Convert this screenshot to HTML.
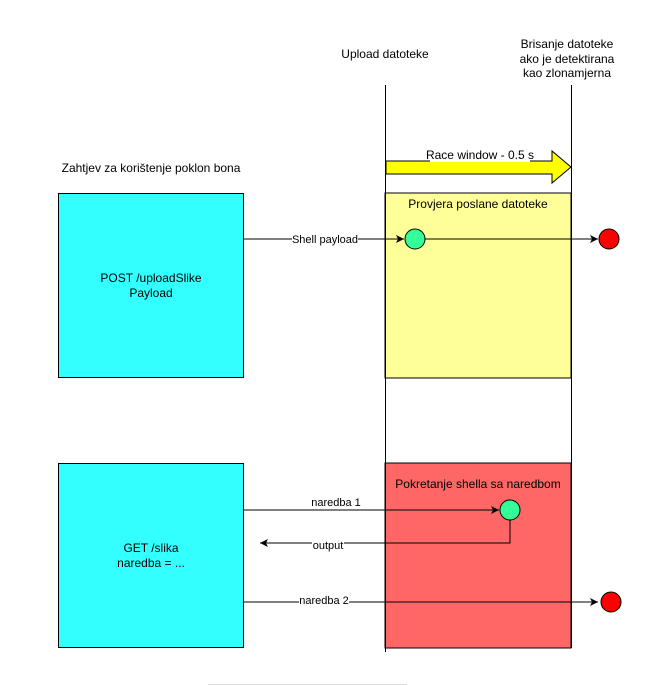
<!DOCTYPE html>
<html><head><style>
body{margin:0;background:#fff;}
svg{display:block;font-family:"Liberation Sans",sans-serif;}
</style></head><body>
<svg width="671" height="685" viewBox="0 0 671 685" xmlns="http://www.w3.org/2000/svg">
<defs><marker id="a" markerWidth="10" markerHeight="10" refX="9" refY="5" orient="auto" markerUnits="userSpaceOnUse"><path d="M1,1 L9,5 L1,9 L3,5 Z" fill="#000"/></marker></defs>
<g font-size="12" fill="#000" text-anchor="middle">
<text x="385" y="58">Upload datoteke</text>
<text x="567" y="48">Brisanje datoteke</text>
<text x="567" y="63">ako je detektirana</text>
<text x="567" y="77">kao zlonamjerna</text>
<text x="151" y="172">Zahtjev za korištenje poklon bona</text>
</g>
<rect x="385" y="193" width="186" height="185" fill="#ffff99" stroke="#000"/>
<rect x="385" y="463" width="186" height="185" fill="#ff6666" stroke="#000"/>
<line x1="385.5" y1="85" x2="385.5" y2="652" stroke="#000"/>
<line x1="571.5" y1="85" x2="571.5" y2="648" stroke="#000"/>
<rect x="58.5" y="193.5" width="185" height="184" fill="#33ffff" stroke="#000"/>
<rect x="58.5" y="463.5" width="185" height="184" fill="#33ffff" stroke="#000"/>
<path d="M386,161 L552,161 L552,151 L571,167 L552,183 L552,174 L386,174 Z" fill="#ffff00" stroke="#000"/>
<rect x="430" y="148" width="100" height="14" fill="#fff"/>
<text x="480" y="159" font-size="12" text-anchor="middle">Race window - 0.5 s</text>
<text x="478" y="208" font-size="12" text-anchor="middle">Provjera poslane datoteke</text>
<text x="478" y="488" font-size="12" text-anchor="middle">Pokretanje shella sa naredbom</text>
<g font-size="12" text-anchor="middle">
<text x="151" y="282">POST /uploadSlike</text>
<text x="151" y="297">Payload</text>
<text x="151" y="552">GET /slika</text>
<text x="151" y="567">naredba = ...</text>
</g>
<g stroke="#000" fill="none">
<line x1="243" y1="239" x2="404" y2="239" marker-end="url(#a)"/>
<line x1="425" y1="239" x2="598" y2="239" marker-end="url(#a)"/>
<line x1="243" y1="510" x2="499" y2="510" marker-end="url(#a)"/>
<path d="M510,520 L510,543 L260,543" marker-end="url(#a)"/>
<line x1="243" y1="602" x2="598" y2="602" marker-end="url(#a)"/>
</g>
<circle cx="415" cy="239" r="10" fill="#33ff99" stroke="#000"/>
<circle cx="609" cy="239" r="10" fill="#ff0000" stroke="#000"/>
<circle cx="510" cy="510" r="10" fill="#33ff99" stroke="#000"/>
<circle cx="611" cy="602" r="10" fill="#ff0000" stroke="#000"/>
<g font-size="11" text-anchor="middle">
<rect x="292" y="232" width="66" height="13" fill="#fff"/><text x="325" y="243">Shell payload</text>
<rect x="311" y="497" width="50" height="12" fill="#fff"/><text x="336" y="506">naredba 1</text>
<rect x="312" y="538" width="32" height="12" fill="#fff"/><text x="328" y="549">output</text>
<rect x="299" y="595" width="50" height="12" fill="#fff"/><text x="324" y="604">naredba 2</text>
</g>
<line x1="208" y1="684.5" x2="407" y2="684.5" stroke="#ddd"/>
</svg>
</body></html>
